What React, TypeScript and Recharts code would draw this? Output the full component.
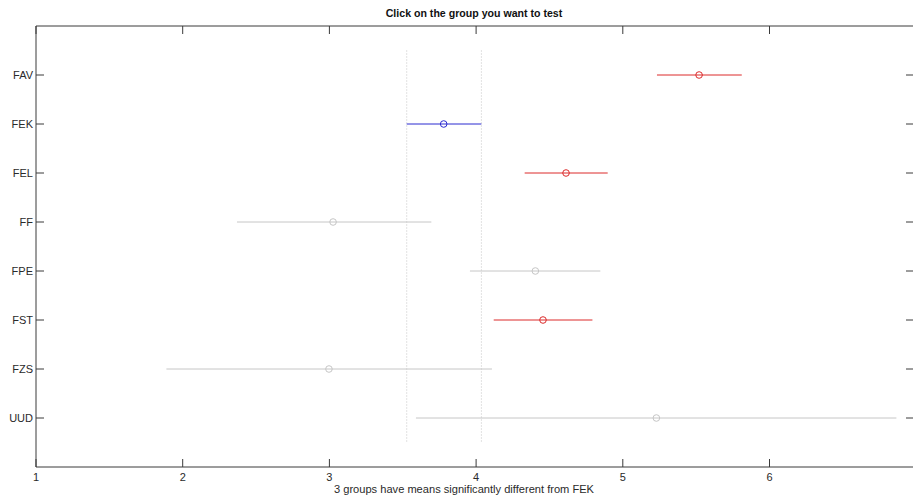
import React from 'react';
import { ScatterChart, Scatter, XAxis, YAxis, ReferenceLine } from 'recharts';

const groups = ['FAV', 'FEK', 'FEL', 'FF', 'FPE', 'FST', 'FZS', 'UUD'];
const means = [5.52, 3.779, 4.613, 3.025, 4.404, 4.456, 2.997, 5.229];
const lowers = [5.233, 3.527, 4.331, 2.37, 3.958, 4.12, 1.889, 3.59];
const uppers = [5.811, 4.036, 4.897, 3.695, 4.847, 4.793, 4.108, 6.865];
const status = ['diff', 'ref', 'diff', 'same', 'same', 'diff', 'same', 'same'];
const xTicks = [1, 2, 3, 4, 5, 6];
const yTicks = [1, 2, 3, 4, 5, 6, 7, 8];
const refGroup = 'FEK';
const title = 'Click on the group you want to test';
const xLabel = '3 groups have means significantly different from FEK';

const colorOf: Record<string, string> = {
  diff: '#dc2a2a',
  ref: '#2b2bd0',
  same: '#c6c6c6',
};
const axisColor = '#3a3a3a';
const textColor = '#2a2a2a';
const font = '"Liberation Sans", Arial, sans-serif';

const BottomTick = (p: any) => (
  <g>
    <line x1={p.x} y1={p.y} x2={p.x} y2={p.y - 8} stroke={axisColor} strokeWidth={1} />
    <text x={p.x} y={p.y + 14} textAnchor="middle" fontSize={11} fontFamily={font} fill={textColor}>
      {p.payload.value}
    </text>
  </g>
);
const TopTick = (p: any) => (
  <line x1={p.x} y1={p.y} x2={p.x} y2={p.y + 8} stroke={axisColor} strokeWidth={1} />
);
const LeftTick = (p: any) => (
  <g>
    <line x1={p.x} y1={p.y} x2={p.x + 8} y2={p.y} stroke={axisColor} strokeWidth={1} />
    <text x={p.x - 3} y={p.y + 4} textAnchor="end" fontSize={11} fontFamily={font} fill={textColor}>
      {groups[p.payload.value - 1]}
    </text>
  </g>
);
const RightTick = (p: any) => (
  <line x1={p.x} y1={p.y} x2={p.x - 8} y2={p.y} stroke={axisColor} strokeWidth={1} />
);

const meanData = groups.map((g, i) => ({ x: means[i], y: i + 1, status: status[i] }));

const MeanShape = (p: any) => (
  <circle cx={p.cx} cy={p.cy} r={3.3} fill="none" stroke={colorOf[p.payload.status]} strokeWidth={1} />
);
const NoShape = () => <g />;

export default function App() {
  const refIdx = groups.indexOf(refGroup);
  return (
    <div style={{ position: 'absolute', left: 0, top: 0, width: 913, height: 497, overflow: 'hidden', background: '#fff' }}>
      <ScatterChart width={915} height={497} margin={{ top: 25, right: 0, bottom: 29, left: 35 }}>
        <XAxis
          xAxisId="b"
          type="number"
          dataKey="x"
          domain={[1, 6.985]}
          ticks={xTicks}
          interval={0}
          height={1}
          tickSize={0}
          tickMargin={0}
          tickLine={false}
          axisLine={{ stroke: axisColor }}
          tick={<BottomTick />}
          allowDataOverflow
        />
        <XAxis
          xAxisId="t"
          orientation="top"
          type="number"
          dataKey="x"
          domain={[1, 6.985]}
          ticks={xTicks}
          interval={0}
          height={1}
          tickSize={0}
          tickMargin={0}
          tickLine={false}
          axisLine={{ stroke: axisColor }}
          tick={<TopTick />}
          allowDataOverflow
        />
        <YAxis
          yAxisId="l"
          type="number"
          dataKey="y"
          domain={[0, 9]}
          reversed
          ticks={yTicks}
          interval={0}
          width={1}
          tickSize={0}
          tickMargin={0}
          tickLine={false}
          axisLine={{ stroke: axisColor }}
          tick={<LeftTick />}
          allowDataOverflow
        />
        <YAxis
          yAxisId="r"
          orientation="right"
          type="number"
          dataKey="y"
          domain={[0, 9]}
          reversed
          ticks={yTicks}
          interval={0}
          width={1}
          tickSize={0}
          tickMargin={0}
          tickLine={false}
          axisLine={{ stroke: axisColor }}
          tick={<RightTick />}
          allowDataOverflow
        />
        <ReferenceLine
          xAxisId="b"
          yAxisId="l"
          segment={[{ x: lowers[refIdx], y: 0.5 }, { x: lowers[refIdx], y: groups.length + 0.5 }]}
          stroke="#c4c4c4"
          strokeDasharray="1 2"
        />
        <ReferenceLine
          xAxisId="b"
          yAxisId="l"
          segment={[{ x: uppers[refIdx], y: 0.5 }, { x: uppers[refIdx], y: groups.length + 0.5 }]}
          stroke="#c4c4c4"
          strokeDasharray="1 2"
        />
        {groups.map((g, i) => (
          <Scatter
            key={g}
            xAxisId="b"
            yAxisId="l"
            data={[{ x: lowers[i], y: i + 1 }, { x: uppers[i], y: i + 1 }]}
            line={{ stroke: colorOf[status[i]], strokeWidth: 1 }}
            shape={NoShape}
            isAnimationActive={false}
          />
        ))}
        <Scatter xAxisId="b" yAxisId="l" data={meanData} shape={MeanShape} isAnimationActive={false} />
        <Scatter xAxisId="t" yAxisId="r" data={meanData} shape={NoShape} isAnimationActive={false} />
      </ScatterChart>
      <div style={{ position: 'absolute', left: 0, width: 948, top: 6, textAlign: 'center', fontFamily: font, fontWeight: 'bold', fontSize: 10.6, color: '#111', lineHeight: '14px' }}>
        {title}
      </div>
      <div style={{ position: 'absolute', left: 0, width: 928, top: 482, textAlign: 'center', fontFamily: font, fontSize: 11.1, color: textColor, lineHeight: '14px' }}>
        {xLabel}
      </div>
    </div>
  );
}
